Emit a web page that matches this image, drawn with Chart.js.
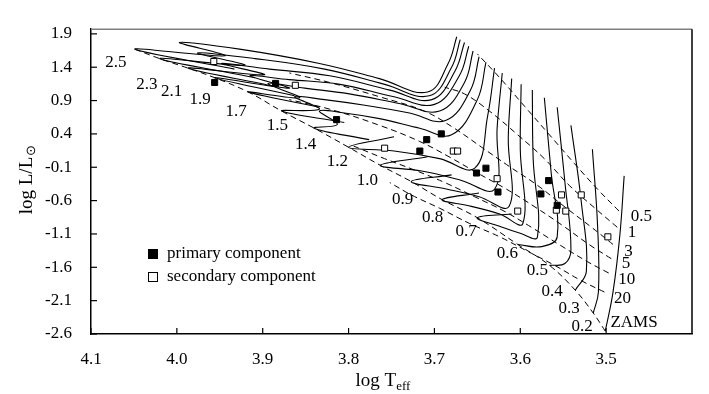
<!DOCTYPE html>
<html lang="en">
<head>
  <meta charset="UTF-8">
  <title>HR diagram with pre-main-sequence tracks</title>
  <script src="https://cdn.jsdelivr.net/npm/chart.js"></script>
  <style>
    html, body { margin: 0; background: #fff; }
    #wrap { width: 709px; height: 394px; position: relative; }
  </style>
</head>
<body>
  <div id="wrap"><canvas id="chart"></canvas></div>

  <script>
    // evolutionary tracks, [log Teff, log L], Hayashi top -> ZAMS / early MS
    const track25 = [[3.674,1.857],[3.684,1.457],[3.708,1.029],[3.764,1.229],[3.834,1.457],[3.927,1.671],[3.997,1.771],[3.944,1.571],[4.049,1.671],[3.933,1.371]];
    const track23 = [[3.670,1.814],[3.680,1.400],[3.706,0.971],[3.758,1.143],[3.828,1.371],[3.909,1.529],[3.976,1.614],[3.921,1.429],[4.020,1.529],[3.909,1.243]];
    const track21 = [[3.665,1.771],[3.676,1.343],[3.703,0.914],[3.752,1.057],[3.822,1.271],[3.892,1.371],[3.948,1.457],[3.898,1.286],[3.987,1.386],[3.886,1.114]];
    const track19 = [[3.660,1.714],[3.671,1.271],[3.700,0.843],[3.747,0.957],[3.810,1.143],[3.869,1.214],[3.915,1.271],[3.869,1.086],[3.956,1.243],[3.863,0.971]];
    const track17 = [[3.655,1.643],[3.665,1.171],[3.694,0.743],[3.741,0.857],[3.799,1.000],[3.851,1.086],[3.894,1.157],[3.857,0.943],[3.917,1.029],[3.834,0.800]];
    const track15 = [[3.648,1.557],[3.658,1.057],[3.687,0.600],[3.729,0.714],[3.781,0.829],[3.828,0.914],[3.863,0.957],[3.834,0.771],[3.878,0.743],[3.805,0.571]];
    const track14 = [[3.640,1.471],[3.650,0.914],[3.680,0.386],[3.717,0.486],[3.764,0.629],[3.805,0.714],[3.834,0.743],[3.813,0.543],[3.840,0.486],[3.776,0.314]];
    const track12 = [[3.630,1.386],[3.638,0.671],[3.653,-0.114],[3.694,0.029],[3.747,0.143],[3.800,0.200],[3.747,0.357]];
    const track10 = [[3.621,1.314],[3.627,0.486],[3.630,-0.429],[3.671,-0.286],[3.715,-0.157],[3.763,-0.071],[3.708,0.057]];
    const track09 = [[3.610,1.229],[3.614,0.343],[3.613,-0.686],[3.648,-0.543],[3.685,-0.429],[3.727,-0.314],[3.680,-0.214]];
    const track08 = [[3.599,1.143],[3.600,0.171],[3.597,-0.943],[3.624,-0.800],[3.657,-0.686],[3.691,-0.586],[3.648,-0.486]];
    const track07 = [[3.586,1.057],[3.585,0.029],[3.580,-1.143],[3.601,-1.086],[3.624,-0.986],[3.650,-0.857],[3.610,-0.800]];
    const track06 = [[3.572,0.943],[3.564,-0.186],[3.557,-1.143],[3.575,-1.290],[3.603,-1.257]];
    const track05 = [[3.557,0.800],[3.548,-0.329],[3.541,-1.329],[3.548,-1.543],[3.566,-1.571]];
    const track04 = [[3.541,0.529],[3.529,-0.614],[3.523,-1.657],[3.536,-1.943]];
    const track03 = [[3.516,0.171],[3.510,-0.971],[3.509,-1.971],[3.515,-2.286]];
    const track02 = [[3.479,-0.229],[3.484,-1.114],[3.492,-1.971],[3.501,-2.557]];

    const tracks = [track25, track23, track21, track19, track17, track15, track14, track12,
                    track10, track09, track08, track07, track06, track05, track04, track03, track02];
    const massLabels = ['2.5','2.3','2.1','1.9','1.7','1.5','1.4','1.2','1.0','0.9','0.8','0.7','0.6','0.5','0.4','0.3','0.2'];
    const massLabelT = [4.071,4.035,4.006,3.973,3.931,3.883,3.850,3.813,3.778,3.737,3.702,3.663,3.615,3.580,3.563,3.543,3.528];
    const massLabelL = [1.471,1.143,1.029,0.914,0.743,0.529,0.243,-0.014,-0.300,-0.586,-0.857,-1.071,-1.386,-1.643,-1.957,-2.214,-2.486];

    // ZAMS
    const zams = [[4.049,1.671],[4.020,1.529],[3.987,1.386],[3.956,1.243],[3.917,1.029],[3.878,0.743],[3.840,0.486],[3.800,0.200],
                  [3.763,-0.071],[3.727,-0.314],[3.691,-0.586],[3.650,-0.857],[3.603,-1.257],[3.566,-1.571],[3.536,-1.943],[3.515,-2.286],[3.501,-2.557]];

    // isochrones (Myr)
    const iso05 = [[3.485,-0.757],[3.510,-0.429],[3.537,-0.043],[3.566,0.386],[3.595,0.814],[3.624,1.243],[3.650,1.600]];
    const iso1  = [[3.487,-1.000],[3.513,-0.714],[3.543,-0.371],[3.572,0.029],[3.603,0.386],[3.636,0.743],[3.665,1.000],[3.688,1.100]];
    const iso3  = [[3.492,-1.257],[3.517,-1.000],[3.549,-0.686],[3.580,-0.371],[3.613,-0.086],[3.645,0.200],[3.677,0.486],[3.712,0.743],[3.764,0.957],[3.822,1.171],[3.869,1.314]];
    const iso5  = [[3.494,-1.471],[3.520,-1.257],[3.551,-0.971],[3.584,-0.686],[3.616,-0.429],[3.650,-0.186],[3.683,0.057],[3.717,0.286],[3.764,0.529],[3.822,0.771],[3.869,0.914]];
    const iso10 = [[3.497,-1.686],[3.522,-1.514],[3.555,-1.257],[3.587,-1.000],[3.619,-0.757],[3.653,-0.543],[3.688,-0.329],[3.723,-0.143],[3.758,0.029],[3.799,0.243]];
    const iso20 = [[3.502,-1.971],[3.529,-1.800],[3.560,-1.571],[3.592,-1.357],[3.624,-1.143],[3.659,-0.943],[3.694,-0.714],[3.727,-0.514],[3.752,-0.329]];
    const isochrones = [iso05, iso1, iso3, iso5, iso10, iso20];
    const isoLabels = ['0.5','1','3','5','10','20'];
    const isoLabelT = [3.459,3.470,3.474,3.477,3.476,3.481];
    const isoLabelL = [-0.843,-1.086,-1.371,-1.543,-1.786,-2.071];

    // binary components
    const primaryT   = [3.956,3.885,3.814,3.709,3.692,3.717,3.651,3.640,3.626,3.567,3.576,3.557];
    const primaryL   = [1.171,1.157,0.614,0.314,0.400,0.143,-0.186,-0.114,-0.471,-0.300,-0.500,-0.671];
    const secondaryT = [3.957,3.862,3.758,3.678,3.673,3.627,3.552,3.529,3.603,3.558,3.547,3.498];
    const secondaryL = [1.486,1.129,0.186,0.143,0.143,-0.271,-0.514,-0.514,-0.757,-0.743,-0.757,-1.143];

    const xTicks = [4.1, 4.0, 3.9, 3.8, 3.7, 3.6, 3.5];
    const yTicks = [-2.6, -2.1, -1.6, -1.1, -0.6, -0.1, 0.4, 0.9, 1.4, 1.9];

    const serif = '"Liberation Serif", "Times New Roman", serif';
    Chart.defaults.font.family = serif;
    Chart.defaults.color = '#000';

    const toXY = pts => pts.map(p => ({ x: p[0], y: p[1] }));
    const line = (pts, dash, width) => ({
      data: toXY(pts), showLine: true, borderColor: '#000', borderWidth: width,
      borderDash: dash, pointRadius: 0, tension: 0.4, fill: false, order: 2
    });

    const datasets = [
      {
        data: primaryT.map((t, i) => ({ x: t, y: primaryL[i] })),
        pointStyle: 'rect', pointRadius: 4.3, backgroundColor: '#000', borderColor: '#000', borderWidth: 1, order: 0
      },
      {
        data: secondaryT.map((t, i) => ({ x: t, y: secondaryL[i] })),
        pointStyle: 'rect', pointRadius: 4.3, backgroundColor: '#fff', borderColor: '#000', borderWidth: 1, order: 0
      },
      ...tracks.map(t => line(t, [], 1.1)),
      ...isochrones.map(t => line(t, [6, 4], 1)),
      line(zams, [6, 4], 1)
    ];

    function seg(ctx, x1, y1, x2, y2) {
      ctx.beginPath(); ctx.moveTo(x1, y1); ctx.lineTo(x2, y2); ctx.stroke();
    }

    const decorations = {
      id: 'decorations',
      afterDraw(chart) {
        const { ctx, chartArea: a, scales: { x, y } } = chart;
        ctx.save();

        // top and right frame
        ctx.lineWidth = 1.5;
        ctx.strokeStyle = '#808080';
        seg(ctx, a.left, a.top, a.right, a.top);
        ctx.strokeStyle = '#000';
        seg(ctx, a.right, a.top, a.right, a.bottom);

        // inward ticks
        ctx.lineWidth = 1.2;
        yTicks.forEach(v => { const p = y.getPixelForValue(v); seg(ctx, a.left, p, a.left + 6, p); });
        xTicks.forEach(v => { const p = x.getPixelForValue(v); seg(ctx, p, a.bottom, p, a.bottom - 6); });

        // track and isochrone labels
        ctx.fillStyle = '#000';
        ctx.font = '17px ' + serif;
        ctx.textAlign = 'center';
        ctx.textBaseline = 'middle';
        massLabels.forEach((m, i) => ctx.fillText(m, x.getPixelForValue(massLabelT[i]), y.getPixelForValue(massLabelL[i])));
        isoLabels.forEach((m, i) => ctx.fillText(m, x.getPixelForValue(isoLabelT[i]), y.getPixelForValue(isoLabelL[i])));
        ctx.fillText('ZAMS', 634, 323);

        // legend
        ctx.fillRect(148, 249, 10, 10);
        ctx.lineWidth = 1;
        ctx.fillStyle = '#fff';
        ctx.fillRect(148.5, 272.5, 9, 9);
        ctx.strokeRect(148.5, 272.5, 9, 9);
        ctx.fillStyle = '#000';
        ctx.textAlign = 'left';
        ctx.fillText('primary component', 167, 254);
        ctx.fillText('secondary component', 167, 277);

        // x axis title
        ctx.textBaseline = 'alphabetic';
        ctx.font = '13px ' + serif;
        const subW = ctx.measureText('eff').width;
        ctx.font = '19px ' + serif;
        const mainW = ctx.measureText('log T').width;
        const x0 = 383 - (mainW + subW) / 2;
        ctx.fillText('log T', x0, 386);
        ctx.font = '13px ' + serif;
        ctx.fillText('eff', x0 + mainW, 390);

        // y axis title
        ctx.translate(32, 180);
        ctx.rotate(-Math.PI / 2);
        ctx.font = '19px ' + serif;
        const yMainW = ctx.measureText('log L/L').width;
        ctx.font = '13px ' + serif;
        const sunW = ctx.measureText('\u2299').width;
        const y0 = -(yMainW + sunW) / 2;
        ctx.font = '19px ' + serif;
        ctx.fillText('log L/L', y0, 0);
        ctx.font = '13px ' + serif;
        ctx.fillText('\u2299', y0 + yMainW + 1, 3);

        ctx.restore();
      }
    };

    new Chart(document.getElementById('chart'), {
      type: 'scatter',
      data: { datasets },
      options: {
        responsive: true,
        maintainAspectRatio: false,
        animation: false,
        layout: { padding: { top: 14, right: 17, left: 0, bottom: 0 } },
        plugins: { legend: { display: false }, tooltip: { enabled: false } },
        scales: {
          x: {
            type: 'linear', reverse: true, min: 3.4, max: 4.1,
            afterBuildTicks: s => { s.ticks = xTicks.map(v => ({ value: v })); },
            afterFit: s => { s.height = 60; },
            grid: { display: false, drawTicks: false },
            border: { display: true, color: '#000', width: 1.5 },
            ticks: { padding: 15, font: { size: 17 }, color: '#000', callback: v => v.toFixed(1) }
          },
          y: {
            type: 'linear', min: -2.6, max: 1.97,
            afterBuildTicks: s => { s.ticks = yTicks.map(v => ({ value: v })); },
            afterFit: s => { s.width = 91; },
            grid: { display: false, drawTicks: false },
            border: { display: true, color: '#000', width: 1.5 },
            ticks: { padding: 19, font: { size: 17 }, color: '#000', callback: v => v.toFixed(1) }
          }
        }
      },
      plugins: [decorations]
    });
  </script>
</body>
</html>
